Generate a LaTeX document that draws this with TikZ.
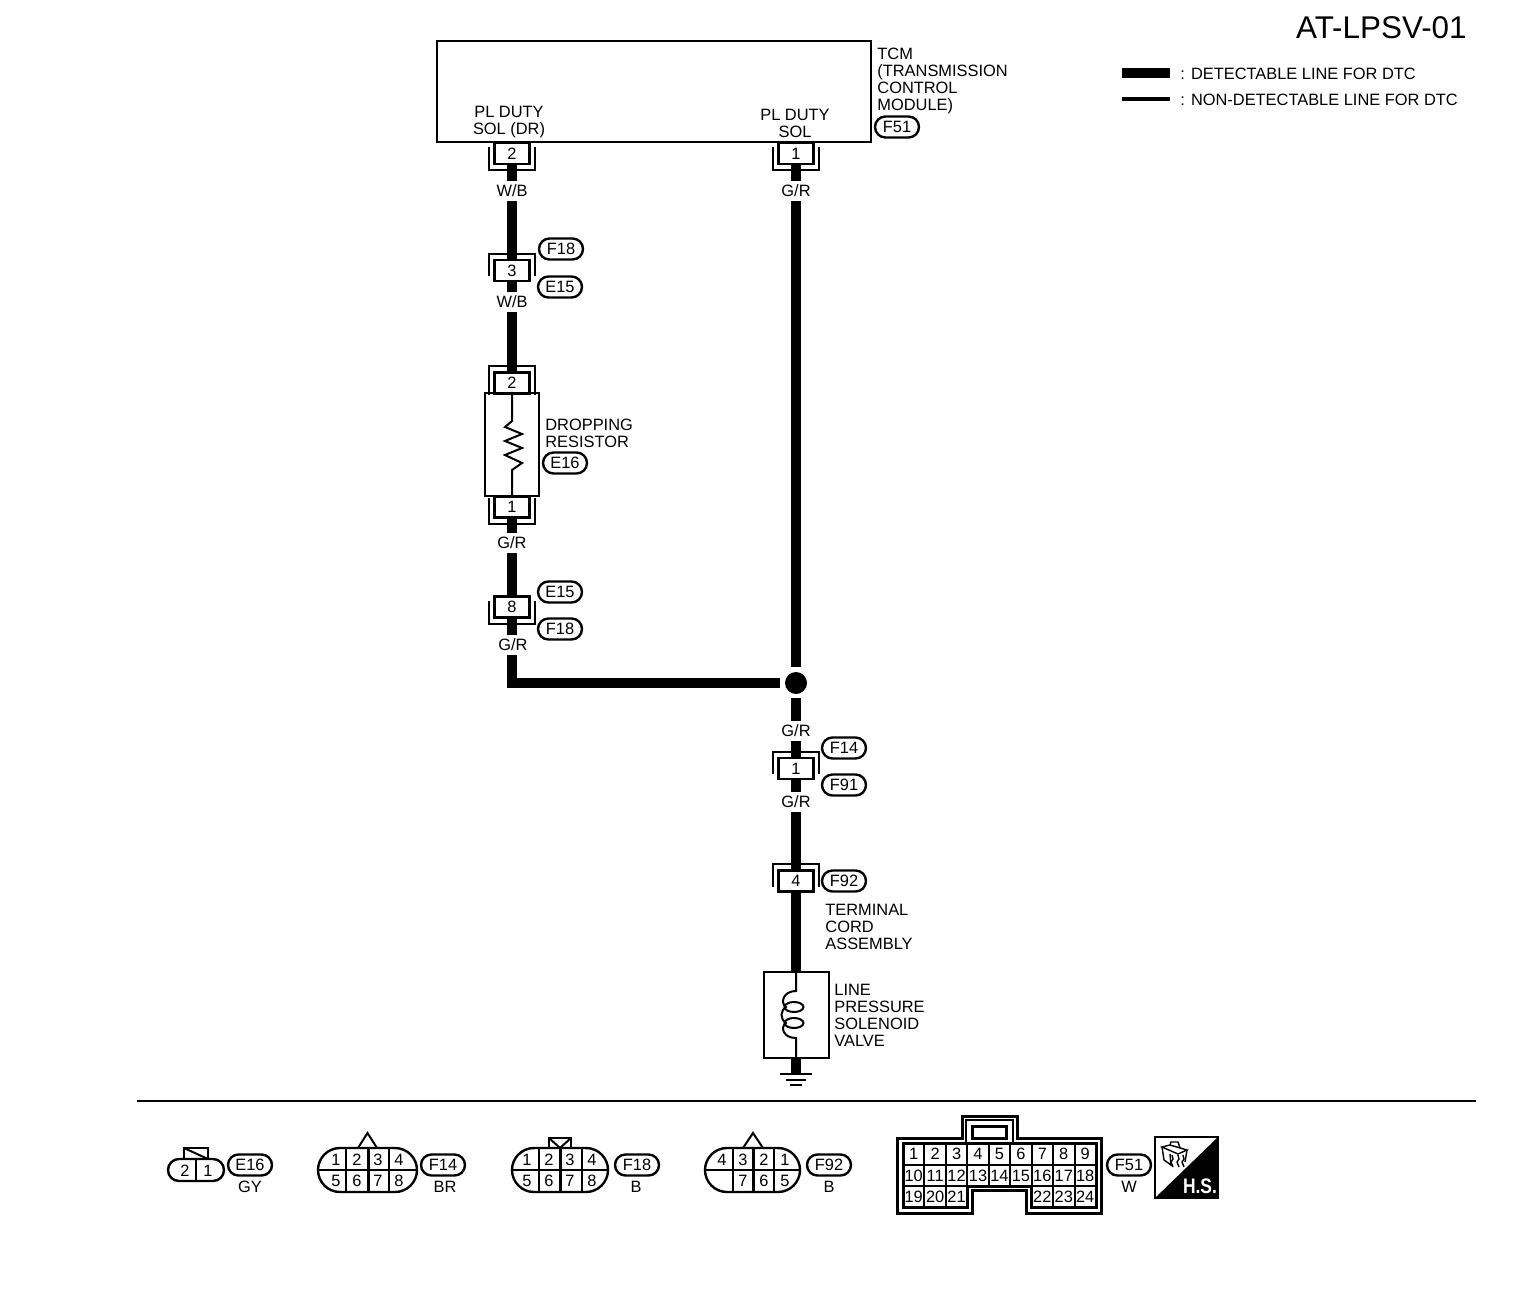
\documentclass[tikz,border=0pt]{standalone}
\usepackage{fontspec}
\setmainfont{Liberation Sans}
\usetikzlibrary{shapes.misc}
\tikzset{
  every node/.style={font=\fontsize{8.2}{8.5}\selectfont, inner sep=0pt},
  line/.style={line width=1pt},
  wire/.style={line width=5.2pt},
  num/.style={text height=5.8pt, text depth=0pt},
  pinbox/.style={draw, line width=1.2pt, fill=white, minimum width=17.5pt, minimum height=10.5pt, num},
  bracket/.style={line width=1pt},
  tag/.style={draw, line width=1.2pt, rounded rectangle, minimum width=22pt, minimum height=10.5pt},
  color label/.style={fill=white, minimum height=10pt, minimum width=16pt},
  plug/.style={draw, line width=1.2pt, rounded rectangle, minimum height=22pt},
}
% terminal with the bracket above / below the number
\newcommand{\pintop}[5][3pt]{
  \node[pinbox] (#2) at (#3,#4) {#5};
  \draw[bracket] ([shift={(-2.25pt,#1)}]#2.south west) -- ([shift={(-2.25pt,2.5pt)}]#2.north west)
    -- ([shift={(2.25pt,2.5pt)}]#2.north east) -- ([shift={(2.25pt,#1)}]#2.south east);
}
\newcommand{\pinbot}[5][-2.75pt]{
  \node[pinbox] (#2) at (#3,#4) {#5};
  \draw[bracket] ([shift={(-2.25pt,#1)}]#2.north west) -- ([shift={(-2.25pt,-2.5pt)}]#2.south west)
    -- ([shift={(2.25pt,-2.5pt)}]#2.south east) -- ([shift={(2.25pt,#1)}]#2.north east);
}
\begin{document}
\begin{tikzpicture}[x=.5pt, y=-.5pt]
  \useasboundingbox (0,0) rectangle (1536,1316);
  % title and legend
  \node[anchor=east, font=\fontsize{15.7}{16}\selectfont] (title) at (1467,28) {AT-LPSV-01};
  \coordinate (leg1a) at (1122,73);
  \coordinate (leg1b) at (1170,73);
  \coordinate (leg2a) at (1122,99);
  \coordinate (leg2b) at (1170,99);
  \draw[wire] (leg1a) -- (leg1b);
  \draw[line width=2pt] (leg2a) -- (leg2b);
  \node[anchor=west] (leg1) at (1180,74) {: DETECTABLE LINE FOR DTC};
  \node[anchor=west] (leg2) at (1180,100) {: NON-DETECTABLE LINE FOR DTC};

  % control module
  \node[draw, line, minimum width=217pt, minimum height=50.5pt] (tcm) at (654,91.5) {};
  \node[align=center] (soldr) at (509,122) {PL DUTY\\SOL (DR)};
  \node[align=center] (sol) at (795,123) {PL DUTY\\SOL};
  \node[align=left, anchor=north west] (tcmtext) at (877,48) {TCM\\(TRANSMISSION\\CONTROL\\MODULE)};
  \node[tag] (f51a) at (897,127) {F51};

  % terminals
  \pinbot{pina}{512}{153.5}{2}
  \pinbot{pinb}{796}{153.5}{1}
  \pintop{pinc}{512}{270.5}{3}
  \pintop[0pt]{pind}{512}{383}{2}
  \pinbot[-1.5pt]{pine}{512}{507}{1}
  \pinbot{pinf}{512}{607}{8}
  \pintop{ping}{796}{768.5}{1}
  \pintop{pinh}{796}{881}{4}

  % dropping resistor
  \node[draw, line width=1.2pt, minimum width=27pt, minimum height=51.5pt] (res) at (512,444.5) {};
  \draw[line] (res.north) -- (512,421) -- (505,427) -- (522,434) -- (505,441) -- (522,448)
    -- (505,455) -- (522,463) -- (512,470) -- (res.south);
  \node[align=left, anchor=west] (restext) at (545,433) {DROPPING\\RESISTOR};

  % solenoid valve
  \node[draw, line, minimum width=32.5pt, minimum height=43pt] (valve) at (796,1015) {};
  \draw[line] (valve.north) -- (796,991) .. controls (783,991) and (780,1003) .. (786,1007)
    .. controls (780,1011) and (780,1019) .. (786,1023) .. controls (780,1027) and (783,1038) .. (796,1038) -- (valve.south);
  \draw[line] (794,1007) ellipse [x radius=9.5, y radius=5];
  \draw[line] (794,1023) ellipse [x radius=9.5, y radius=5];
  \node[align=left, anchor=west] (valvetext) at (834,1015) {LINE\\PRESSURE\\SOLENOID\\VALVE};
  \node[align=left, anchor=west] (cordtext) at (825,927) {TERMINAL\\CORD\\ASSEMBLY};
  \coordinate (gnd) at (796,1074);
  \draw[wire] (valve.south) -- (gnd);
  \draw[line] (780,1074) -- (812,1074);
  \draw[line] (786,1079.5) -- (806,1079.5);
  \draw[line] (790,1085) -- (802,1085);

  % wires
  \draw[wire] (pina.south) -- (pinc.north);
  \draw[wire] (pinc.south) -- (pind.north);
  \draw[wire] (pine.south) -- (pinf.north);
  \node[circle, fill=black, minimum size=11pt] (junction) at (796,683) {};
  \draw[wire, shorten >=8pt] (pinf.south) |- (junction.center);
  \draw[wire, shorten >=8pt] (pinb.south) -- (junction.center);
  \draw[wire, shorten <=7.5pt] (junction.center) -- (ping.north);
  \draw[wire] (ping.south) -- (pinh.north);
  \draw[wire] (pinh.south) -- (valve.north);

  % wire colours
  \node[color label] (wb1) at (512,191) {W/B};
  \node[color label] (wb2) at (512,302) {W/B};
  \node[color label] (gr1) at (512,543) {G/R};
  \node[color label] (gr2) at (513,645) {G/R};
  \node[color label] (gr3) at (796,191) {G/R};
  \node[color label] (gr4) at (796,731) {G/R};
  \node[color label] (gr5) at (796,802) {G/R};

  % connector tags
  \node[tag] (f18a) at (561,249) {F18};
  \node[tag] (e15a) at (560,287) {E15};
  \node[tag] (e16a) at (565,463) {E16};
  \node[tag] (e15b) at (560,592) {E15};
  \node[tag] (f18b) at (560,629) {F18};
  \node[tag] (f14a) at (844,748) {F14};
  \node[tag] (f91a) at (844,785) {F91};
  \node[tag] (f92a) at (844,881) {F92};

  \draw[line] (137,1101) -- (1476,1101);

  % connector E16
  \node[plug, minimum height=11pt, minimum width=28pt] (plugone) at (196,1170) {};
  \draw[line] (plugone.north) -- (plugone.south);
  \draw[line] (184,1159) -- (184,1148) -- (208,1148) -- (208,1159) -- cycle;
  \draw[line] (184,1148) -- (208,1159);
  \node[num] (e16x) at (185,1170.5) {2};
  \node[num] (e16y) at (208,1170.5) {1};
  \node[tag] (e16b) at (250,1165) {E16};
  \node (gy) at (250,1187) {GY};

  % connector F14
  \node[plug, minimum width=49.5pt] (plugtwo) at (367.5,1170) {};
  \draw[line] (plugtwo.west) -- (plugtwo.east);
  \foreach \px in {346,389} \draw[line] (\px,1148) -- (\px,1192);
  \draw[line width=1.5pt] (368,1148) -- (368,1192);
  \draw[line] (358,1148) -- (367.5,1133) -- (377,1148);
  \foreach \n/\px/\py in {1/336/1160,2/357/1160,3/378/1160,4/399/1160,5/336/1181,6/357/1181,7/378/1181,8/399/1181}
    \node[num] (ft\n) at (\px,\py) {\n};
  \node[tag] (f14b) at (443,1165) {F14};
  \node (br) at (445,1187) {BR};

  % connector F18
  \node[plug, minimum width=48pt] (plugthree) at (560,1170) {};
  \draw[line] (plugthree.west) -- (plugthree.east);
  \foreach \px in {539,582} \draw[line] (\px,1148) -- (\px,1192);
  \draw[line width=1.5pt] (560,1148) -- (560,1192);
  \draw[line] (549,1148) -- (549,1138) -- (571,1138) -- (571,1148);
  \draw[line] (549,1138) -- (560,1148) -- (571,1138);
  \foreach \n/\px/\py in {1/527/1160,2/549/1160,3/570/1160,4/592/1160,5/527/1181,6/549/1181,7/570/1181,8/592/1181}
    \node[num] (fe\n) at (\px,\py) {\n};
  \node[tag] (f18c) at (637,1165) {F18};
  \node (bone) at (636,1187) {B};

  % connector F92
  \node[plug, minimum width=47.5pt] (plugfour) at (752.5,1170) {};
  \draw[line] (plugfour.west) -- (plugfour.east);
  \foreach \px in {733,774} \draw[line] (\px,1148) -- (\px,1192);
  \draw[line width=1.5pt] (753,1148) -- (753,1192);
  \draw[line] (743,1148) -- (753,1133) -- (763,1148);
  \foreach \n/\px/\py in {4/722/1160,3/743/1160,2/764/1160,1/785/1160,7/743/1181,6/764/1181,5/785/1181}
    \node[num] (fn\n) at (\px,\py) {\n};
  \node[tag] (f92b) at (829,1165) {F92};
  \node (btwo) at (829,1187) {B};

  % connector F51
  \draw[line width=1.5pt] (897,1138) -- (962,1138) -- (962,1116) -- (1017,1116) -- (1017,1138) -- (1101,1138)
    -- (1101,1213) -- (1026,1213) -- (1026,1190) -- (972,1190) -- (972,1213) -- (897,1213) -- cycle;
  \draw[line] (966,1143) -- (966,1120) -- (1013,1120) -- (1013,1143);
  \draw[line width=1.5pt] (972,1126) rectangle (1006,1138);
  \draw[line width=1.5pt] (903,1143) -- (1096,1143) -- (1096,1207.5) -- (1031.6,1207.5) -- (1031.6,1186)
    -- (967.3,1186) -- (967.3,1207.5) -- (903,1207.5) -- cycle;
  \draw[line] (903,1164.5) -- (1096,1164.5);
  \draw[line width=.6pt] (903,1186) -- (1096,1186);
  \foreach \c in {1,2,7,8} \draw[line] (903+21.44*\c,1143) -- (903+21.44*\c,1207.5);
  \foreach \c in {3,4,5,6} \draw[line] (903+21.44*\c,1143) -- (903+21.44*\c,1186);
  \foreach \c [evaluate=\c as \n using int(\c+1)] in {0,...,8}
    \node[num] (cell\n) at (913.7+21.44*\c,1154) {\n};
  \foreach \c [evaluate=\c as \n using int(\c+10)] in {0,...,8}
    \node[num] (cell\n) at (913.7+21.44*\c,1175.5) {\n};
  \foreach \c [evaluate=\c as \n using int(\c+19)] in {0,1,2}
    \node[num] (cell\n) at (913.7+21.44*\c,1197) {\n};
  \foreach \c [evaluate=\c as \n using int(\c+16)] in {6,7,8}
    \node[num] (cell\n) at (913.7+21.44*\c,1197) {\n};
  \node[tag] (f51b) at (1129,1165) {F51};
  \node (wcol) at (1129,1187) {W};

  % harness symbol
  \fill (1218,1137) -- (1218,1198) -- (1155,1198) -- cycle;
  \draw[line] (1155,1137) rectangle (1218,1198);
  \node[text=white, font=\fontsize{10.5}{10.5}\bfseries] (hs) at (1200,1186) {\scalebox{.83}[1]{H.S.}};
  \draw[line width=.7pt] (1162,1147) -- (1170,1145) -- (1187,1150) -- (1178,1154) -- cycle;
  \draw[line width=.7pt] (1170,1145) -- (1171,1142) -- (1178,1142) -- (1180,1148);
  \draw[line width=.7pt] (1162,1147) -- (1164,1160) -- (1171,1165) -- (1170,1154);
  \draw[line width=.7pt] (1187,1150) -- (1185,1162);
  \foreach \px in {1172,1178,1183}
    \draw[line width=.7pt] (\px,1155) -- (\px+1,1159) -- (\px-1,1162) -- (\px+1,1167);
\end{tikzpicture}
\end{document}
